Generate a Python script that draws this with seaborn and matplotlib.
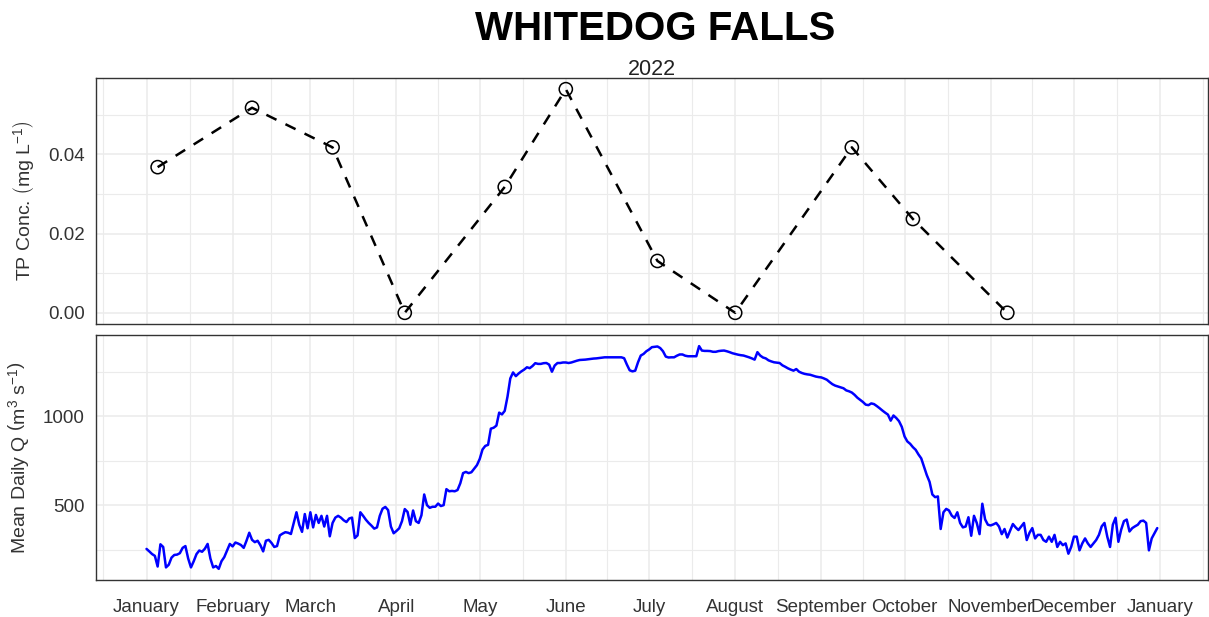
import numpy as np
import pandas as pd
import matplotlib
matplotlib.use("Agg")
import matplotlib.pyplot as plt
import matplotlib.dates as mdates
import seaborn as sns

# TP samples (2022)
tp_dates = ["2022-01-05", "2022-02-08", "2022-03-09", "2022-04-04", "2022-05-10",
            "2022-06-01", "2022-07-04", "2022-08-01", "2022-09-12", "2022-10-04",
            "2022-11-07"]
tp_conc = [0.0368, 0.0518, 0.0418, 0.0, 0.0318, 0.0565, 0.0131, 0.0, 0.0418, 0.0237, 0.0]

# mean daily flow, 2022-01-01 .. 2022-12-31
flow = [
    254, 240, 225, 215, 155, 280, 265, 150, 165, 205, 220, 222, 230, 260, 270, 200,
    150, 185, 225, 245, 238, 255, 282, 200, 150, 158, 142, 185, 208, 245, 282, 268,
    290, 284, 276, 260, 300, 345, 305, 292, 300, 275, 240, 300, 305, 288, 265, 270,
    330, 340, 348, 345, 338, 400, 460, 390, 350, 450, 370, 460, 375, 445, 400, 440,
    380, 440, 325, 400, 430, 440, 430, 415, 405, 425, 430, 315, 330, 460, 440, 418,
    400, 385, 368, 375, 440, 480, 490, 472, 380, 342, 355, 370, 410, 478, 462, 390,
    470, 410, 400, 443, 560, 500, 485, 491, 491, 509, 495, 500, 590, 578, 580, 578,
    585, 623, 680, 687, 680, 685, 705, 725, 760, 813, 833, 839, 930, 935, 947, 1020,
    1010, 1030, 1110, 1212, 1246, 1225, 1240, 1252, 1262, 1275, 1270, 1282, 1298, 1294, 1294, 1298,
    1299, 1290, 1250, 1285, 1299, 1299, 1302, 1302, 1299, 1302, 1307, 1312, 1316, 1317, 1318, 1320,
    1322, 1324, 1325, 1327, 1329, 1331, 1331, 1331, 1331, 1331, 1331, 1331, 1326, 1290, 1258, 1252,
    1256, 1303, 1341, 1350, 1365, 1375, 1388, 1390, 1392, 1383, 1365, 1335, 1330, 1331, 1331, 1340,
    1347, 1347, 1340, 1337, 1337, 1337, 1337, 1394, 1369, 1367, 1367, 1366, 1362, 1362, 1366, 1368,
    1369, 1365, 1360, 1354, 1350, 1346, 1343, 1341, 1336, 1331, 1325, 1318, 1360, 1341, 1330, 1325,
    1314, 1308, 1303, 1301, 1299, 1286, 1278, 1269, 1262, 1256, 1265, 1250, 1243, 1238, 1235, 1233,
    1228, 1223, 1220, 1218, 1212, 1205, 1192, 1180, 1172, 1167, 1162, 1157, 1145, 1140, 1133, 1120,
    1104, 1092, 1080, 1065, 1062, 1072, 1068, 1057, 1045, 1032, 1020, 1009, 975, 1004, 990, 972,
    940, 886, 858, 845, 826, 811, 785, 763, 716, 669, 631, 560, 545, 549, 366, 460,
    479, 470, 441, 428, 460, 400, 375, 380, 432, 328, 440, 400, 337, 508, 420, 390,
    386, 392, 400, 380, 337, 366, 318, 356, 394, 375, 360, 380, 400, 304, 345, 371,
    313, 333, 333, 304, 294, 323, 294, 333, 265, 294, 275, 285, 227, 265, 323, 323,
    246, 285, 313, 285, 265, 285, 304, 333, 381, 400, 323, 265, 390, 429, 294, 362,
    410, 419, 352, 371, 381, 390, 410, 413, 400, 246, 313, 342, 371,
]

tp_df = pd.DataFrame({"date": pd.to_datetime(tp_dates), "tp": tp_conc})
q_df = pd.DataFrame({"date": pd.date_range("2022-01-01", periods=len(flow), freq="D"),
                     "q": flow})

sns.set_theme(style="white")
plt.rcParams["font.family"] = ["Liberation Sans", "DejaVu Sans"]
plt.rcParams["mathtext.fontset"] = "custom"
plt.rcParams["mathtext.rm"] = "Liberation Sans"
plt.rcParams["mathtext.it"] = "Liberation Sans:italic"

fig = plt.figure(figsize=(12.09, 6.17), dpi=100)
ax1 = fig.add_axes([0.0794, 0.4749, 0.9196, 0.3987])
ax2 = fig.add_axes([0.0794, 0.0600, 0.9196, 0.3971])

sns.lineplot(data=tp_df, x="date", y="tp", ax=ax1, color="black", linewidth=1.8,
             linestyle=(0, (4.5, 4)), zorder=3)
sns.scatterplot(data=tp_df, x="date", y="tp", ax=ax1, s=90, facecolor="none",
                edgecolor="black", linewidth=1.1, zorder=4)
sns.lineplot(data=q_df, x="date", y="q", ax=ax2, color="blue", linewidth=1.8, zorder=3)

start, end = q_df["date"].min(), q_df["date"].max()
pad = (end - start) * 0.05
month_ticks = pd.date_range("2022-01-01", "2023-01-01", freq="MS")
minor_ticks = month_ticks[:-1] + (month_ticks[1:] - month_ticks[:-1]) / 2
minor_ticks = minor_ticks.append(pd.DatetimeIndex([month_ticks[0] - pd.Timedelta(days=15.5),
                                                   month_ticks[-1] + pd.Timedelta(days=15.5)]))

tc = "#333333"
for ax in (ax1, ax2):
    ax.set_xlim(start - pad, end + pad)
    ax.set_xticks(month_ticks)
    ax.set_xticks(minor_ticks, minor=True)
    ax.xaxis.set_major_formatter(mdates.DateFormatter("%B"))
    ax.grid(True, which="major", color="#ebebeb", linewidth=1.1, zorder=0)
    ax.grid(True, which="minor", color="#ebebeb", linewidth=0.8, zorder=0)
    ax.set_axisbelow(True)
    for s in ax.spines.values():
        s.set_color("#333333")
        s.set_linewidth(1.0)
    ax.tick_params(axis="both", which="major", length=4, width=1, color="#333333",
                   labelsize=13.5, labelcolor=tc, direction="out", pad=4)
    ax.tick_params(axis="x", which="major", pad=10)
    ax.tick_params(axis="both", which="minor", length=0)
    ax.set_xlabel("")

ax1.tick_params(axis="x", which="major", length=0, labelbottom=False)

tp_min, tp_max = min(tp_conc), max(tp_conc)
e = (tp_max - tp_min) * 0.05
ax1.set_ylim(tp_min - e, tp_max + e)
ax1.set_yticks([0.0, 0.02, 0.04])
ax1.set_yticks([0.01, 0.03, 0.05], minor=True)
ax1.set_yticklabels(["0.00", "0.02", "0.04"])
ax1.set_ylabel(r"TP Conc. $\left(\mathrm{mg\ L^{-1}}\right)$", fontsize=14, color=tc, labelpad=9)

q_min, q_max = min(flow), max(flow)
e = (q_max - q_min) * 0.05
ax2.set_ylim(q_min - e, q_max + e)
ax2.set_yticks([500, 1000])
ax2.set_yticks([250, 750, 1250], minor=True)
ax2.set_ylabel(r"Mean Daily Q $\left(\mathrm{m^3\ s^{-1}}\right)$", fontsize=14, color=tc, labelpad=9)

fig.text(0.542, 0.953, "WHITEDOG FALLS", ha="center", va="center", fontsize=29,
         fontweight="bold", color="black")
fig.text(0.539, 0.887, "2022", ha="center", va="center", fontsize=15.5, color="#222222")

fig.savefig("out.png", dpi=100)
